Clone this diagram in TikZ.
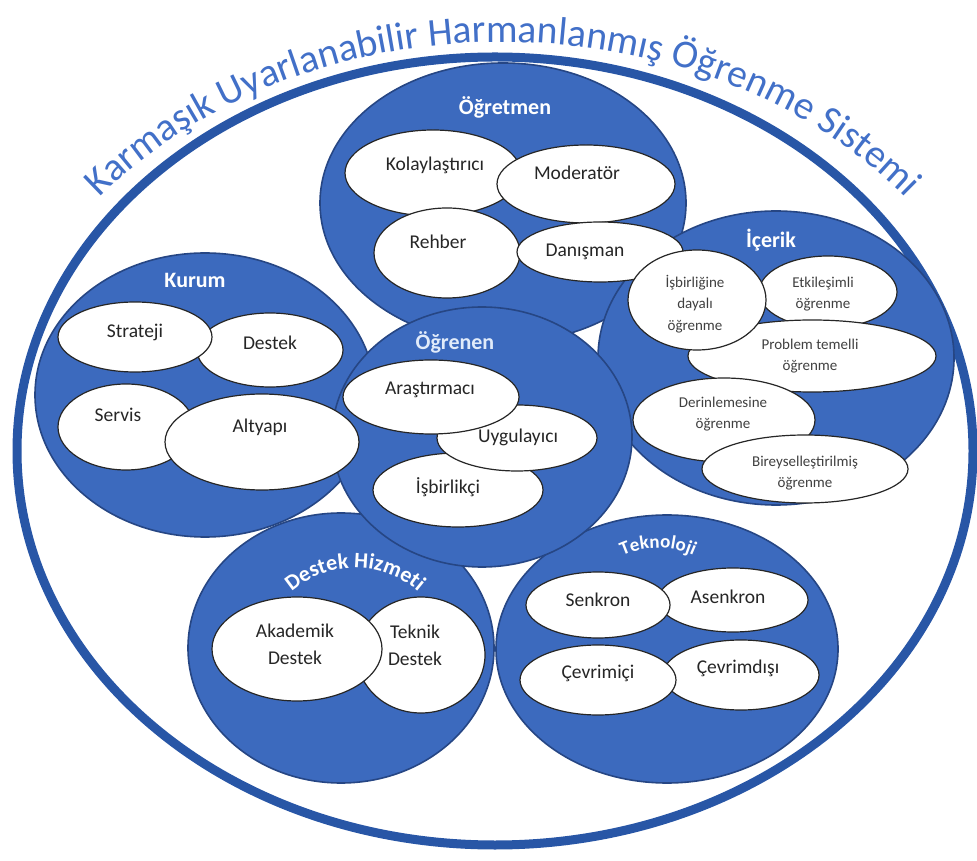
\documentclass[tikz,border=0pt]{standalone}
\usepackage{fontspec}
\setmainfont{Carlito}
\usetikzlibrary{shapes.geometric,decorations.text}
\definecolor{fillblue}{RGB}{60,106,190}
\definecolor{edgeblue}{RGB}{38,70,132}
\definecolor{ringblue}{RGB}{40,86,166}
\definecolor{ttlblue}{RGB}{66,112,200}
\definecolor{lightlbl}{RGB}{225,235,250}
\newcommand\ttlfont{\fontsize{39.5}{40}\selectfont\color{ttlblue}}
\newcommand\hdrfont{\bfseries\fontsize{22}{24}\selectfont\color{white}}
\newcommand\hdrsmall{\bfseries\fontsize{19}{22}\selectfont\color{white}}
\tikzset{
  blob/.style={ellipse, fill=fillblue, draw=edgeblue, line width=1.6pt, inner sep=0pt},
  oval/.style={ellipse, fill=white, draw=black!85, line width=1.2pt, inner sep=0pt},
  lbl/.style={font=\fontsize{19.5}{27}\selectfont, text=black!85, align=center, inner sep=0pt},
  slbl/.style={font=\fontsize{15}{21.5}\selectfont, text=black!75, align=center, inner sep=0pt},
  hdr/.style={font=\bfseries\fontsize{22}{24}\selectfont, text=white, inner sep=0pt},
  ring/.style={draw=ringblue, line width=9pt},
}
\begin{document}
\begin{tikzpicture}[x=1pt,y=1pt]
\useasboundingbox (0,0) rectangle (977,860);
\fill[white] (0,0) rectangle (977,860);
% outer ring
\node[ellipse, ring, minimum width=956, minimum height=788, inner sep=0pt] (outer) at (495,409) {};
% title
\path[decorate, decoration={text along path, text align=center,
  text={|\ttlfont|Karmaşık Uyarlanabilir Harmanlanmış Öğrenme Sistemi}}]
  (503,409) ++(146:513 and 409) arc[start angle=146, end angle=34, x radius=513, y radius=409];
% group circles
\node[blob, minimum width=306, minimum height=270] (destekC) at (341,212) {};
\node[blob, minimum width=342, minimum height=268] (teknoC) at (667,211) {};
\node[blob, minimum width=366, minimum height=280] (ogretmenC) at (503,657) {};
\node[blob, minimum width=356, minimum height=294] (icerikC) at (776,502) {};
\node[blob, minimum width=340, minimum height=284] (kurumC) at (205,465) {};
\node[blob, minimum width=300, minimum height=260] (ogrenenC) at (482,423) {};
% headers
\node[hdr] (hOgretmen) at (505,753) {Öğretmen};
\node[hdr] (hKurum) at (195,580) {Kurum};
\node[hdr, text=lightlbl] (hOgrenen) at (455,518) {Öğrenen};
\node[hdr] (hIcerik) at (771,620) {İçerik};
\path[decorate, decoration={text along path, text align=center, text={|\hdrfont|Destek Hizmeti}}]
  (355,195) ++(155:97) arc[start angle=155, end angle=25, radius=97];
\path[decorate, decoration={text along path, text align=center, text={|\hdrsmall|Teknoloji}}]
  (658,227) ++(160:85) arc[start angle=160, end angle=20, radius=85];
% Ogretmen
\node[oval, minimum width=176, minimum height=86] (kolay) at (433,687) {};
\node[oval, minimum width=178, minimum height=78] (moder) at (586,676) {};
\node[oval, minimum width=146, minimum height=90] (rehber) at (447,607) {};
\node[oval, minimum width=166, minimum height=60] (danis) at (600,608) {};
% Kurum
\node[oval, minimum width=146, minimum height=74] (destek) at (270,510) {};
\node[oval, minimum width=154, minimum height=70] (strateji) at (135,523) {};
\node[oval, minimum width=136, minimum height=86] (servis) at (126,433) {};
\node[oval, minimum width=194, minimum height=96] (altyapi) at (262,418) {};
% Ogrenen
\node[oval, minimum width=170, minimum height=74] (isbirlikci) at (458,370) {};
\node[oval, minimum width=160, minimum height=66] (uygul) at (517,422) {};
\node[oval, minimum width=176, minimum height=74] (arast) at (431,463) {};
% Icerik
\node[oval, minimum width=138, minimum height=72] (etkilesim) at (828,568) {};
\node[oval, minimum width=248, minimum height=72] (problem) at (812,504) {};
\node[oval, minimum width=138, minimum height=100] (isbirligi) at (697,560) {};
\node[oval, minimum width=182, minimum height=84] (derin) at (724,440) {};
\node[oval, minimum width=206, minimum height=68] (bireysel) at (805,391) {};
% Destek Hizmeti
\node[oval, minimum width=128, minimum height=116] (teknik) at (421,205) {};
\node[oval, minimum width=170, minimum height=104] (akademik) at (297,211) {};
% Teknoloji
\node[oval, minimum width=150, minimum height=64] (asenkron) at (733,260) {};
\node[oval, minimum width=144, minimum height=66] (senkron) at (598,255) {};
\node[oval, minimum width=156, minimum height=70] (cevrimdisi) at (741,185) {};
\node[oval, minimum width=156, minimum height=70] (cevrimici) at (598,180) {};
% labels
\node[lbl] (tKolay) at (435,695) {Kolaylaştırıcı};
\node[lbl] (tModer) at (577,687) {Moderatör};
\node[lbl] (tRehber) at (438,618) {Rehber};
\node[lbl] (tDanis) at (585,608) {Danışman};
\node[lbl] (tStrateji) at (135,528) {Strateji};
\node[lbl] (tDestek) at (270,517) {Destek};
\node[lbl] (tServis) at (118,445) {Servis};
\node[lbl] (tAltyapi) at (260,433) {Altyapı};
\node[lbl] (tArast) at (430,470) {Araştırmacı};
\node[lbl] (tUygul) at (518,423) {Uygulayıcı};
\node[lbl] (tIsbirlikci) at (448,373) {İşbirlikçi};
\node[slbl] (tIsbirligi) at (695,556) {İşbirliğine\\dayalı\\öğrenme};
\node[slbl] (tEtkilesim) at (823,566) {Etkileşimli\\öğrenme};
\node[slbl] (tProblem) at (810,504) {Problem temelli\\öğrenme};
\node[slbl] (tDerin) at (723,446) {Derinlemesine\\öğrenme};
\node[slbl] (tBireysel) at (805,387) {Bireyselleştirilmiş\\öğrenme};
\node[lbl] (tAkademik) at (295,216) {Akademik\\Destek};
\node[lbl] (tTeknik) at (415,215) {Teknik\\Destek};
\node[lbl] (tSenkron) at (598,260) {Senkron};
\node[lbl] (tAsenkron) at (728,263) {Asenkron};
\node[lbl] (tCevrimici) at (598,187) {Çevrimiçi};
\node[lbl] (tCevrimdisi) at (738,192) {Çevrimdışı};
\end{tikzpicture}
\end{document}
